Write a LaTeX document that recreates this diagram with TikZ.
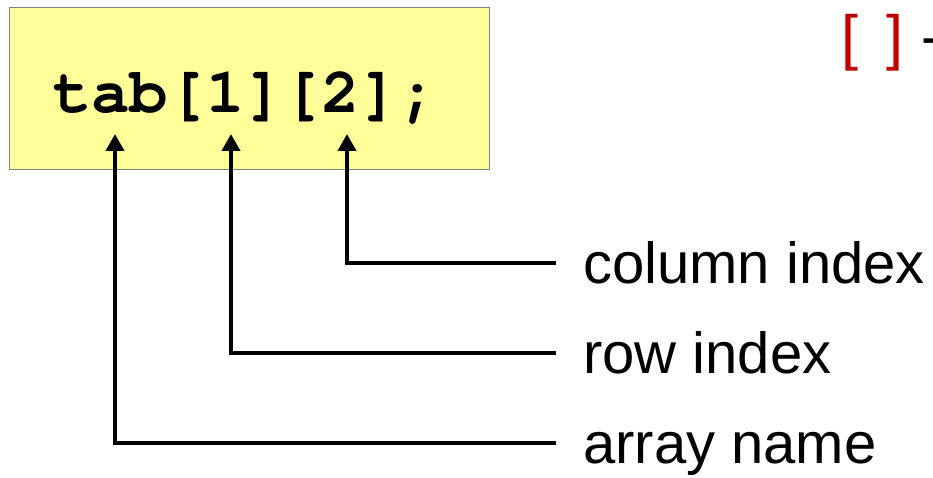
\documentclass[tikz,border=0pt]{standalone}
\usepackage{fontspec}
\setmainfont{Liberation Sans}
\newfontfamily\codefont{TeX Gyre Cursor}
\usetikzlibrary{arrows.meta}
\definecolor{boxfill}{HTML}{FFFF99}
\definecolor{boxline}{HTML}{808080}
\definecolor{brk}{HTML}{C00000}
\begin{document}
\begin{tikzpicture}[x=1pt,y=-1pt,
  lbl/.style={anchor=base west,inner sep=0pt,font=\fontsize{58}{58}\selectfont},
  arr/.style={line width=4pt,-{Triangle[width=18pt,length=17pt]}}]
\useasboundingbox (0,0) rectangle (933,478);
% code box
\node[draw=boxline,line width=1pt,fill=boxfill,minimum width=480pt,minimum height=162pt,inner sep=0pt] (box) at (249,89) {};
\node[anchor=base,inner sep=0pt,font=\codefont\bfseries\fontsize{64}{64}\selectfont] (code) at (245,113) {tab[1][2];};
% labels
\node[lbl] (col) at (583,283) {column index};
\node[lbl] (row) at (583,373) {row index};
\node[lbl] (name) at (583,463) {array name};
% brackets in the corner
\node[lbl,text=brk,font=\fontsize{61}{61}\selectfont] (brk) at (841,59) {[\hspace{28pt}]};
\node[lbl] (dash) at (921,57) {-};
% connector ends
\coordinate (ecol) at (556,263);
\coordinate (erow) at (556,353);
\coordinate (ename) at (556,443);
\coordinate (tcol) at (347,134);
\coordinate (trow) at (231,134);
\coordinate (tname) at (115,134);
\draw[arr] (ecol) -| (tcol);
\draw[arr] (erow) -| (trow);
\draw[arr] (ename) -| (tname);
\end{tikzpicture}
\end{document}
